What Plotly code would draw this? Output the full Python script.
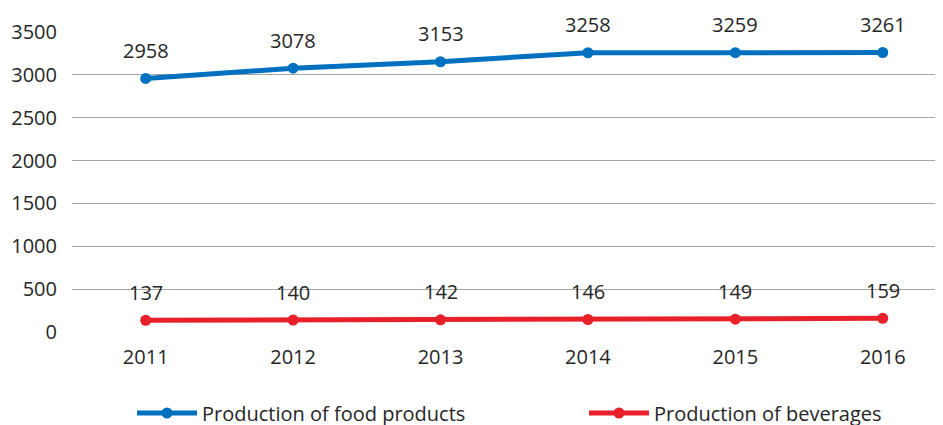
import plotly.graph_objects as go

years = ["2011", "2012", "2013", "2014", "2015", "2016"]
food = [2958, 3078, 3153, 3258, 3259, 3261]
beverages = [137, 140, 142, 146, 149, 159]
y_ticks = [0, 500, 1000, 1500, 2000, 2500, 3000, 3500]

FONT = "Open Sans"
TXT = "#262626"
BLUE = "#0070C0"
RED = "#E8202A"

fig = go.Figure()
fig.add_trace(go.Scatter(x=years, y=food, mode="lines+markers", name="Production of food products",
                         line=dict(color=BLUE, width=5), marker=dict(size=11, color=BLUE),
                         legend="legend"))
fig.add_trace(go.Scatter(x=years, y=beverages, mode="lines+markers", name="Production of beverages",
                         line=dict(color=RED, width=5), marker=dict(size=11, color=RED),
                         legend="legend2"))

# category axis positions are serial numbers for annotations
for series in (food, beverages):
    for i, yv in enumerate(series):
        fig.add_annotation(x=i, y=yv, xref="x", yref="y", text=str(yv), showarrow=False, yshift=28,
                           font=dict(family=FONT, size=20, color=TXT))

leg_common = dict(orientation="h", xref="container", yref="container", yanchor="middle",
                  y=20 / 425, font=dict(family=FONT, size=20, color=TXT), bgcolor="rgba(0,0,0,0)",
                  itemwidth=60)

fig.update_layout(
    width=943, height=425,
    margin=dict(l=64, r=0, t=24, b=101, autoexpand=False),
    paper_bgcolor="white", plot_bgcolor="white",
    font=dict(family=FONT, size=20, color=TXT),
    showlegend=True,
    legend=dict(x=124 / 943, xanchor="left", **leg_common),
    legend2=dict(x=576 / 943, xanchor="left", **leg_common),
)
fig.update_xaxes(type="category", range=[-0.5, 5.463], showgrid=False, zeroline=False, showline=False,
                 ticks="", ticklabelstandoff=11, automargin=False)
fig.update_yaxes(range=[0, 3500], tickvals=y_ticks, showgrid=True, gridcolor="#A6A6A6", gridwidth=1,
                 zeroline=False, showline=False, ticks="", ticklabelstandoff=14, automargin=False)

fig.write_html("out.html")
